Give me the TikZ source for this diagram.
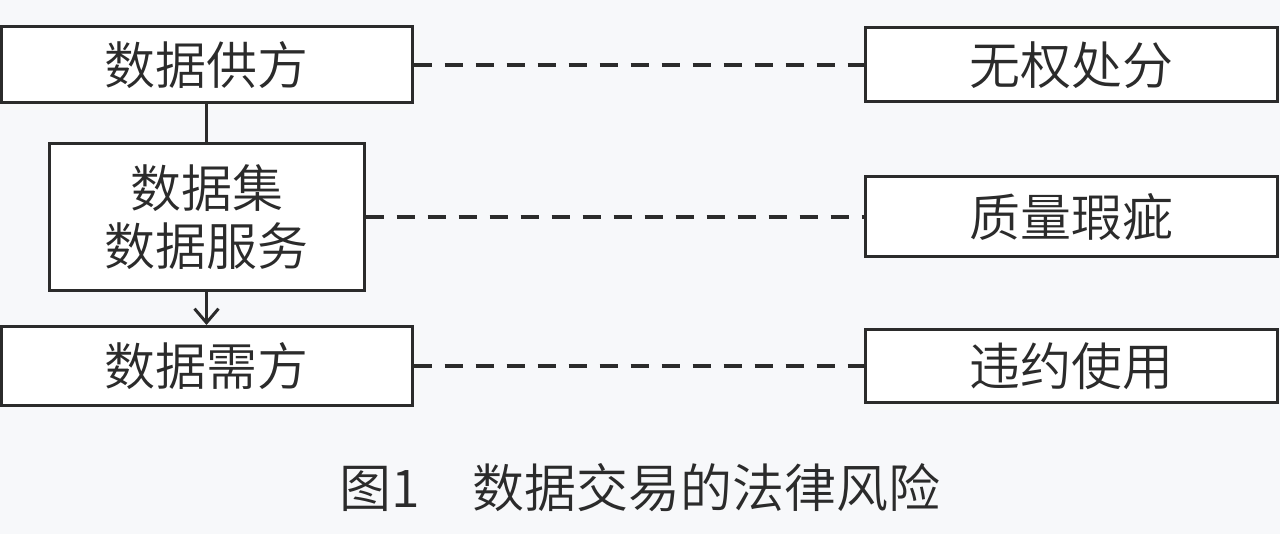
\documentclass[tikz,border=0pt]{standalone}
\usepackage{fontspec}
\setmainfont{Noto Sans CJK SC}[UprightFont=* DemiLight]
\usepackage{tikz}
\usetikzlibrary{arrows.meta}
\definecolor{ink}{HTML}{2B2B2B}
\definecolor{paper}{HTML}{F7F8FA}
\tikzset{
  party/.style={draw=ink,line width=3pt,fill=white,text=ink,inner sep=0pt,
    align=center,font=\fontsize{51}{58}\selectfont},
  risk/.style={party,minimum width=412pt},
  link/.style={draw=ink,line width=3.5pt,dash pattern=on 18pt off 13pt}
}

\begin{document}
\begin{tikzpicture}[x=1pt,y=1pt]
\fill[paper] (0,0) rectangle (1280,534);
\useasboundingbox (0,0) rectangle (1280,534);
\node[party,minimum width=411pt,minimum height=76pt] (supply) at (206.5,469) {数据供方};
\node[party,minimum width=315pt,minimum height=147pt] (data) at (206.5,317) {数据集\\数据服务};
\node[party,minimum width=411pt,minimum height=79pt] (demand) at (206.5,168) {数据需方};
\node[risk,minimum height=74pt] (noright) at (1071,469) {无权处分};
\node[risk,minimum height=80pt] (defect) at (1071,317) {质量瑕疵};
\node[risk,minimum height=73pt] (breach) at (1071,168) {违约使用};
\draw[ink,line width=3pt] (supply) -- (data);
\draw[ink,line width=3pt,-{Straight Barb[length=14pt,width=24pt,line width=3pt]}] (data) -- (demand);
\draw[link] (supply) -- (noright);
\draw[link] (data) -- (defect);
\draw[link] (demand) -- (breach);
\node[text=ink,font=\fontsize{52}{60}\selectfont] (caption) at (640,46) {图1　数据交易的法律风险};
\end{tikzpicture}
\end{document}
